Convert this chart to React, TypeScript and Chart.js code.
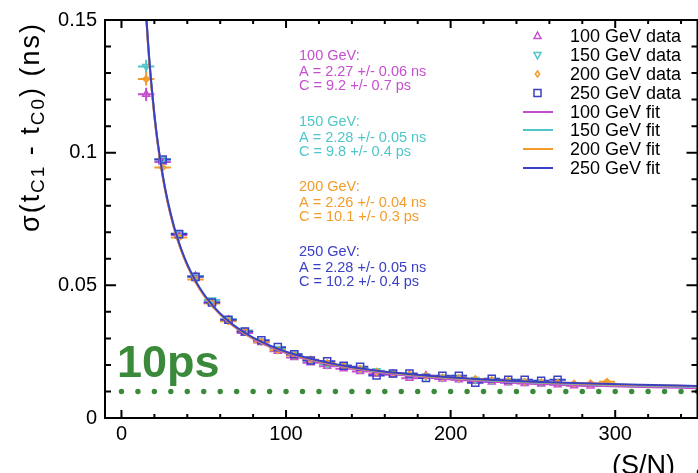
import React, { useEffect, useRef } from 'react';
import { Chart, registerables } from 'chart.js';

Chart.register(...registerables);

const FONT = '"Liberation Sans", Arial, Helvetica, sans-serif';

const C_MAG = '#c64fcf';
const C_CYA = '#4fc6c9';
const C_ORA = '#f39c2b';
const C_BLU = '#3a40c6';
const C_GRN = '#3b8a3b';

// 100 GeV data
const x100 = [15, 25, 35, 45, 55, 65, 75, 85, 95, 105, 115, 125, 135, 145, 155, 165, 175, 185, 195, 205, 215, 225, 235, 245, 255, 265, 275, 285];
const y100 = [0.122, 0.0965, 0.069, 0.0535, 0.0435, 0.037, 0.032, 0.0285, 0.0252, 0.0228, 0.0208, 0.0195, 0.0186, 0.0175, 0.0166, 0.0163, 0.015, 0.016, 0.0147, 0.0144, 0.0139, 0.0136, 0.0133, 0.013, 0.0128, 0.0125, 0.0122, 0.0121];
const e100 = [0.0025, 0.0008, 0.0006, 0.0005, 0.0005, 0.0004, 0.0004, 0.0004, 0.0004, 0.0004, 0.0004, 0.0004, 0.0004, 0.0004, 0.0004, 0.0004, 0.0004, 0.0004, 0.0004, 0.0004, 0.0004, 0.0004, 0.0004, 0.0004, 0.0004, 0.0004, 0.0004, 0.0004];

// 150 GeV data
const x150 = [15, 25, 35, 45, 55, 65, 75, 85, 95, 105, 115, 125, 135, 145, 155, 165, 175, 185, 195, 205, 215, 225, 235, 245, 255];
const y150 = [0.1325, 0.0975, 0.0695, 0.0535, 0.0445, 0.0372, 0.033, 0.029, 0.0262, 0.024, 0.0218, 0.0203, 0.0198, 0.0186, 0.0178, 0.017, 0.0163, 0.0157, 0.0153, 0.015, 0.0145, 0.0142, 0.0139, 0.0137, 0.0135];
const e150 = [0.0025, 0.0008, 0.0006, 0.0005, 0.0005, 0.0004, 0.0004, 0.0004, 0.0004, 0.0004, 0.0004, 0.0004, 0.0004, 0.0004, 0.0004, 0.0004, 0.0004, 0.0004, 0.0004, 0.0004, 0.0004, 0.0004, 0.0004, 0.0004, 0.0004];

// 200 GeV data
const x200 = [15, 25, 35, 45, 55, 65, 75, 85, 95, 105, 115, 125, 135, 145, 155, 165, 175, 185, 195, 205, 215, 225, 235, 245, 255, 265, 275, 285, 295];
const y200 = [0.1278, 0.0944, 0.068, 0.0522, 0.0432, 0.0365, 0.0327, 0.0287, 0.0255, 0.0236, 0.022, 0.0207, 0.0196, 0.0186, 0.0175, 0.017, 0.0165, 0.0158, 0.0153, 0.015, 0.0147, 0.0143, 0.014, 0.0137, 0.0135, 0.0133, 0.013, 0.0131, 0.0137];
const e200 = [0.0025, 0.0008, 0.0006, 0.0005, 0.0005, 0.0004, 0.0004, 0.0004, 0.0004, 0.0004, 0.0004, 0.0004, 0.0004, 0.0004, 0.0004, 0.0004, 0.0004, 0.0004, 0.0004, 0.0004, 0.0004, 0.0004, 0.0004, 0.0004, 0.0004, 0.0004, 0.0004, 0.0004, 0.0006];

// 250 GeV data
const x250 = [25, 35, 45, 55, 65, 75, 85, 95, 105, 115, 125, 135, 145, 155, 165, 175, 185, 195, 205, 215, 225, 235, 245, 255, 265];
const y250 = [0.0974, 0.0693, 0.0532, 0.0435, 0.037, 0.0326, 0.0293, 0.0267, 0.024, 0.0217, 0.0214, 0.0197, 0.0193, 0.016, 0.0168, 0.0168, 0.0151, 0.0159, 0.0159, 0.0133, 0.0148, 0.0144, 0.0144, 0.014, 0.0144];
const e250 = [0.0008, 0.0006, 0.0005, 0.0005, 0.0004, 0.0004, 0.0004, 0.0004, 0.0004, 0.0004, 0.0004, 0.0004, 0.0004, 0.0004, 0.0004, 0.0004, 0.0004, 0.0004, 0.0004, 0.0004, 0.0004, 0.0004, 0.0004, 0.0004, 0.0004];

const binHalfWidth = 5;

// fit parameters: sigma = sqrt((A/(S/N))^2 + C^2)
const fitLabels = ['100 GeV', '150 GeV', '200 GeV', '250 GeV'];
const fitA = [2.27, 2.28, 2.26, 2.28]; // ns
const fitAerr = [0.06, 0.05, 0.04, 0.05];
const fitC = [9.2, 9.8, 10.1, 10.2]; // ps
const fitCerr = [0.7, 0.4, 0.3, 0.4];
const fitX = [12, 13, 14, 15, 16, 17, 18, 20, 22, 25, 28, 32, 36, 40, 45, 50, 56, 63, 70, 80, 90, 100, 115, 130, 150, 170, 195, 220, 250, 280, 315, 350];

// 10 ps reference
const refX = [0, 10, 20, 30, 40, 50, 60, 70, 80, 90, 100, 110, 120, 130, 140, 150, 160, 170, 180, 190, 200, 210, 220, 230, 240, 250, 260, 270, 280, 290, 300, 310, 320, 330, 340, 350];
const refY = 0.01;

const xMajorTicks = [0, 100, 200, 300];
const xMinorTicks = [20, 40, 60, 80, 120, 140, 160, 180, 220, 240, 260, 280, 320, 340];
const yMajorTicks = [0, 0.05, 0.1, 0.15];
const yMinorTicks = [0.01, 0.02, 0.03, 0.04, 0.06, 0.07, 0.08, 0.09, 0.11, 0.12, 0.13, 0.14];

const colors = [C_MAG, C_CYA, C_ORA, C_BLU];
const styles = ['triangle', 'triangleDown', 'rectRot', 'rect'];

function pts(xs: number[], ys: number[]) {
  return xs.map((x, i) => ({ x, y: ys[i] }));
}

function drawMarker(ctx: CanvasRenderingContext2D, style: string, x: number, y: number, color: string) {
  ctx.save();
  ctx.strokeStyle = color;
  ctx.lineWidth = 1.5;
  ctx.beginPath();
  if (style === 'triangle') {
    ctx.moveTo(x, y - 4); ctx.lineTo(x + 3.5, y + 2.5); ctx.lineTo(x - 3.5, y + 2.5); ctx.closePath();
  } else if (style === 'triangleDown') {
    ctx.moveTo(x, y + 4); ctx.lineTo(x + 3.5, y - 2.5); ctx.lineTo(x - 3.5, y - 2.5); ctx.closePath();
  } else if (style === 'rectRot') {
    ctx.moveTo(x, y - 3); ctx.lineTo(x + 2.2, y); ctx.lineTo(x, y + 3); ctx.lineTo(x - 2.2, y); ctx.closePath();
  } else {
    ctx.rect(x - 3.5, y - 3.5, 7, 7);
  }
  ctx.stroke();
  ctx.restore();
}

const decor = {
  id: 'decor',
  beforeDatasetsDraw(chart: any) {
    const { ctx, chartArea: a, scales } = chart;
    const sx = scales.x, sy = scales.y;
    ctx.save();
    ctx.beginPath();
    ctx.rect(a.left, a.top, a.right - a.left, a.bottom - a.top);
    ctx.clip();
    // 10ps label
    ctx.fillStyle = C_GRN;
    ctx.font = `bold 45px ${FONT}`;
    ctx.textBaseline = 'alphabetic';
    ctx.textAlign = 'left';
    ctx.fillText('10ps', 117, 377);
    // error bars
    chart.data.datasets.forEach((ds: any) => {
      if (!ds.errY) return;
      ctx.strokeStyle = ds.borderColor;
      ctx.lineWidth = 2;
      ds.data.forEach((p: any, i: number) => {
        const px = sx.getPixelForValue(p.x), py = sy.getPixelForValue(p.y);
        const x0 = sx.getPixelForValue(p.x - binHalfWidth), x1 = sx.getPixelForValue(p.x + binHalfWidth);
        const y0 = sy.getPixelForValue(p.y - ds.errY[i]), y1 = sy.getPixelForValue(p.y + ds.errY[i]);
        ctx.beginPath();
        ctx.moveTo(x0, py); ctx.lineTo(x1, py);
        ctx.moveTo(px, y0); ctx.lineTo(px, y1);
        ctx.stroke();
      });
    });
    ctx.restore();
  },
  afterDatasetsDraw(chart: any) {
    const { ctx, chartArea: a, scales } = chart;
    const sx = scales.x, sy = scales.y;
    ctx.save();
    ctx.strokeStyle = '#000';
    ctx.lineWidth = 2;
    ctx.strokeRect(a.left, a.top, a.right - a.left, a.bottom - a.top);
    ctx.beginPath();
    const xt = (v: number, len: number) => {
      const p = sx.getPixelForValue(v);
      ctx.moveTo(p, a.bottom); ctx.lineTo(p, a.bottom - len);
      ctx.moveTo(p, a.top); ctx.lineTo(p, a.top + len);
    };
    const yt = (v: number, len: number) => {
      const p = sy.getPixelForValue(v);
      ctx.moveTo(a.left, p); ctx.lineTo(a.left + len, p);
      ctx.moveTo(a.right, p); ctx.lineTo(a.right - len, p);
    };
    xMajorTicks.forEach(v => xt(v, 8));
    xMinorTicks.forEach(v => xt(v, 4));
    yMajorTicks.forEach(v => yt(v, 11));
    yMinorTicks.forEach(v => yt(v, 6));
    ctx.stroke();

    // annotations
    ctx.textAlign = 'left';
    ctx.textBaseline = 'middle';
    ctx.font = `14.5px ${FONT}`;
    const groupY = [56, 122, 187, 252];
    fitLabels.forEach((lab, i) => {
      ctx.fillStyle = colors[i];
      const y0 = groupY[i];
      ctx.fillText(`${lab}:`, 299, y0);
      ctx.fillText(`A = ${fitA[i].toFixed(2)} +/- ${fitAerr[i].toFixed(2)} ns`, 299, y0 + 15.5);
      ctx.fillText(`C = ${fitC[i].toFixed(1)} +/- ${fitCerr[i].toFixed(1)} ps`, 299, y0 + 30);
    });

    // legend
    const rows = [36, 55, 74, 93, 112, 130, 149, 168];
    ctx.font = `18px ${FONT}`;
    ctx.fillStyle = '#000';
    fitLabels.forEach((lab, i) => {
      drawMarker(ctx, styles[i], 537.5, rows[i], colors[i]);
      ctx.fillStyle = '#000';
      ctx.fillText(`${lab} data`, 570, rows[i] + 1);
    });
    fitLabels.forEach((lab, i) => {
      const r = rows[i + 4];
      ctx.strokeStyle = colors[i];
      ctx.lineWidth = 2;
      ctx.beginPath(); ctx.moveTo(523, r); ctx.lineTo(553, r); ctx.stroke();
      ctx.fillStyle = '#000';
      ctx.fillText(`${lab} fit`, 570, r + 1);
    });

    // y title
    ctx.save();
    ctx.translate(39, 128);
    ctx.rotate(-Math.PI / 2);
    ctx.fillStyle = '#000';
    ctx.textBaseline = 'alphabetic';
    const parts: [string, boolean][] = [['σ(t', false], ['C1', true], [' - t', false], ['C0', true], [') (ns)', false]];
    const mainF = `27px ${FONT}`, subF = `19px ${FONT}`;
    let natural = 0, nch = 0;
    parts.forEach(([t, s]) => {
      ctx.font = s ? subF : mainF;
      for (const ch of t) { natural += ctx.measureText(ch).width; nch++; }
    });
    const target = 208;
    const ls = Math.max(0, (target - natural) / (nch - 1));
    let cx = -target / 2;
    parts.forEach(([t, s]) => {
      ctx.font = s ? subF : mainF;
      for (const ch of t) {
        ctx.fillText(ch, cx, s ? 5 : 0);
        cx += ctx.measureText(ch).width + ls;
      }
    });
    ctx.restore();

    // x title
    ctx.fillStyle = '#000';
    ctx.textBaseline = 'alphabetic';
    ctx.font = `27px ${FONT}`;
    ctx.fillText('(S/N)', 612, 474);
    ctx.font = `20px ${FONT}`;
    ctx.fillText('eff', 684, 484);
    ctx.restore();
  },
};

export default function App() {
  const ref = useRef<HTMLCanvasElement | null>(null);
  useEffect(() => {
    if (!ref.current) return;
    const dataSets = [
      [x100, y100, e100],
      [x150, y150, e150],
      [x200, y200, e200],
      [x250, y250, e250],
    ] as const;
    const datasets: any[] = [];
    datasets.push({
      type: 'scatter',
      data: refX.map(x => ({ x, y: refY })),
      pointRadius: 2.7,
      pointStyle: 'circle',
      pointBackgroundColor: C_GRN,
      pointBorderWidth: 0,
      borderColor: C_GRN,
      order: 20,
    });
    dataSets.forEach(([xs, ys, es], i) => {
      datasets.push({
        type: 'scatter',
        data: pts(xs as any, ys as any),
        errY: es,
        borderColor: colors[i],
        pointBorderColor: colors[i],
        pointBackgroundColor: 'rgba(0,0,0,0)',
        pointStyle: i === 1 ? 'triangle' : styles[i],
        rotation: i === 1 ? 180 : 0,
        pointRadius: i === 3 ? 5 : i === 2 ? 3.2 : 4,
        pointBorderWidth: 1.5,
        order: 10 - i,
      });
    });
    fitA.forEach((A, i) => {
      datasets.push({
        type: 'line',
        data: fitX.map(x => ({ x, y: Math.sqrt((A / x) ** 2 + (fitC[i] / 1000) ** 2) })),
        borderColor: colors[i],
        borderWidth: 2,
        pointRadius: 0,
        fill: false,
        cubicInterpolationMode: 'monotone',
        order: 3 - i,
      });
    });
    const chart = new Chart(ref.current, {
      type: 'scatter',
      data: { datasets },
      options: {
        responsive: false,
        maintainAspectRatio: false,
        animation: false,
        events: [],
        layout: { padding: { left: 0, right: 4, top: 13, bottom: 0 } },
        plugins: { legend: { display: false }, tooltip: { enabled: false } },
        scales: {
          x: {
            type: 'linear',
            min: -10,
            max: 350,
            grid: { display: false, drawTicks: false },
            border: { display: false },
            ticks: { color: '#000', font: { family: FONT, size: 20 }, padding: 4, autoSkip: false, maxRotation: 0 },
            afterBuildTicks: (s: any) => { s.ticks = xMajorTicks.map(v => ({ value: v })); },
            afterFit: (s: any) => { s.height = 55; },
          },
          y: {
            type: 'linear',
            min: 0,
            max: 0.15,
            grid: { display: false, drawTicks: false },
            border: { display: false },
            ticks: {
              color: '#000',
              font: { family: FONT, size: 20 },
              padding: 8,
              autoSkip: false,
              callback: (v: any) => String(Number(Number(v).toFixed(2))),
            },
            afterBuildTicks: (s: any) => { s.ticks = yMajorTicks.map(v => ({ value: v })); },
            afterFit: (s: any) => { s.width = 105; },
          },
        },
      } as any,
      plugins: [decor as any],
    });
    return () => chart.destroy();
  }, []);
  return (
    <div style={{ position: 'fixed', left: 0, top: 0, width: 698, height: 473, overflow: 'hidden', background: '#fff' }}>
      <canvas ref={ref} width={704} height={473} style={{ display: 'block' }} />
    </div>
  );
}
